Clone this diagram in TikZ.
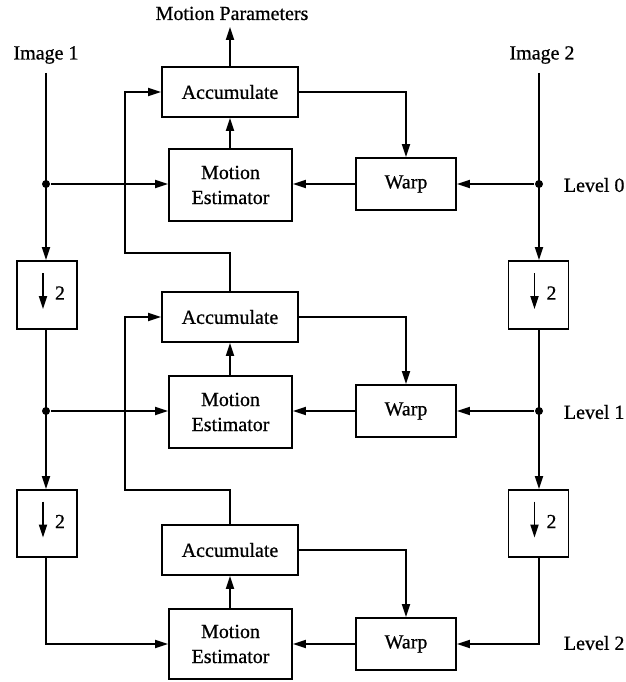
\documentclass[tikz,border=0pt]{standalone}
\usepackage{fontspec}
\setmainfont{Liberation Serif}[FakeBold=0.7]
\usetikzlibrary{arrows.meta}

\begin{document}
\begin{tikzpicture}[x=1pt,y=-1pt,
  line width=1.8pt,
  >={Triangle[length=13pt,width=8pt]},
  every node/.style={font=\fontsize{20}{25}\selectfont},
  blk/.style={draw,line width=1.8pt,inner sep=0pt,align=center},
  accbox/.style={blk,minimum width=136pt,minimum height=50pt},
  mebox/.style={blk,minimum width=123pt,minimum height=72pt},
  warpbox/.style={blk,minimum width=100pt,minimum height=52pt},
  dsbox/.style={blk,minimum width=60pt,minimum height=68pt},
  lbl/.style={inner sep=0pt},
  junc/.style={circle,fill=black,inner sep=0pt,minimum size=8pt}]

\useasboundingbox (0,0) rectangle (625,682);

% ---- labels ----
\node[lbl,anchor=base] (mp) at (232,20) {Motion Parameters};
\node[lbl] (im1) at (46,55) {Image 1};
\node[lbl] (im2) at (542,55) {Image 2};
\node[lbl,anchor=west] (lv0) at (563,185) {Level 0};
\node[lbl,anchor=west] (lv1) at (563,412) {Level 1};
\node[lbl,anchor=west] (lv2) at (563,643) {Level 2};

% ---- level 0 ----
\node[accbox]  (acc0)  at (230,92)  {Accumulate};
\node[mebox]   (me0)   at (230.5,185) {Motion\\Estimator};
\node[warpbox] (warp0) at (406,184) {Warp};

% ---- level 1 ----
\node[accbox]  (acc1)  at (230,317) {Accumulate};
\node[mebox]   (me1)   at (230.5,412) {Motion\\Estimator};
\node[warpbox] (warp1) at (406,411) {Warp};

% ---- level 2 ----
\node[accbox]  (acc2)  at (230,550) {Accumulate};
\node[mebox,minimum height=70pt] (me2) at (230.5,644) {Motion\\Estimator};
\node[warpbox] (warp2) at (406,644) {Warp};

% ---- downsampling boxes ----
\node[dsbox] (dsL1) at (47,295) {};
\node[dsbox] (dsR1) at (538.5,295) {};
\node[dsbox,minimum height=67pt] (dsL2) at (47,523.5) {};
\node[dsbox,minimum height=67pt] (dsR2) at (538.5,523.5) {};
\foreach \b in {dsL1,dsR1,dsL2,dsR2}{
  \draw[->] ([xshift=-4pt,yshift=22pt]\b.center) -- ([xshift=-4pt,yshift=-14pt]\b.center);
  \node[lbl] at ([xshift=13pt,yshift=2pt]\b.center) {2};
}

% ---- coordinates for line ends and bends ----
\coordinate (i1top) at (46,73);
\coordinate (i2top) at (539,73);
\coordinate (mptip) at (230,27);
\coordinate (fb0) at (125,253);
\coordinate (fb1) at (125,490);

% ---- image pyramids ----
\node[junc] (dL0) at (46,184) {};
\node[junc] (dL1) at (46,411) {};
\node[junc] (dR0) at (539,184) {};
\node[junc] (dR1) at (539,411) {};

\draw[->] (i1top) -- (i1top |- dsL1.north);
\draw[->] (i1top |- dsL1.south) -- (i1top |- dsL2.north);
\draw[->] (i1top |- dsL2.south) |- (me2.west);
\draw[->] (i2top) -- (i2top |- dsR1.north);
\draw[->] (i2top |- dsR1.south) -- (i2top |- dsR2.north);
\draw[->] (i2top |- dsR2.south) |- (warp2.east);

% ---- level 0 connections ----
\draw[->] (dL0) -- (dL0 -| me0.west);
\draw[->] (dR0) -- (warp0.east);
\draw[->] (warp0.west) -- (warp0.west -| me0.east);
\draw[->] (me0.north -| acc0.south) -- (acc0.south);
\draw[->] (acc0.east) -| (warp0.north);
\draw[->] (acc0.north) -- (mptip);

% ---- level 1 connections ----
\draw[->] (dL1) -- (dL1 -| me1.west);
\draw[->] (dR1) -- (warp1.east);
\draw[->] (warp1.west) -- (warp1.west -| me1.east);
\draw[->] (me1.north -| acc1.south) -- (acc1.south);
\draw[->] (acc1.east) -| (warp1.north);
\draw[->] (acc1.north) |- (fb0) |- (acc0.west);

% ---- level 2 connections ----
\draw[->] (warp2.west) -- (warp2.west -| me2.east);
\draw[->] (me2.north -| acc2.south) -- (acc2.south);
\draw[->] (acc2.east) -| (warp2.north);
\draw[->] (acc2.north) |- (fb1) |- (acc1.west);

\end{tikzpicture}
\end{document}
